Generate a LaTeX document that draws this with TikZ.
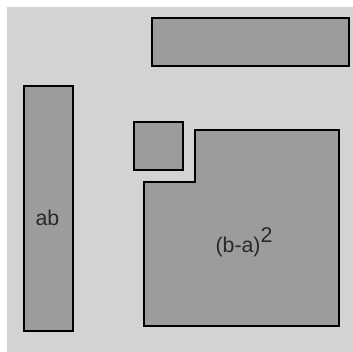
\documentclass[tikz,border=0pt]{standalone}
\usepackage{fontspec}
\setmainfont{Liberation Sans}
\definecolor{bggray}{RGB}{211,211,211}
\definecolor{piecegray}{RGB}{156,156,156}
\definecolor{textgray}{RGB}{40,40,40}

\begin{document}
\begin{tikzpicture}[x=0.75pt,y=-0.75pt,
    piece/.style={draw=black,fill=piecegray,line width=1.5pt},
    area/.style={text=textgray,inner sep=0pt,font=\fontsize{16}{19}\selectfont}]
            % background
            \useasboundingbox (0,0) rectangle (353,352);
            \fill [white] (0,0) rectangle (353,352);
            \fill [bggray] (7,7) rectangle (353,352);
            % pieces
            \draw [piece] (152,18) rectangle (349,66);
            \draw [piece] (23.5,86) rectangle (72.5,331);
            \draw [piece] (134,122.5) rectangle (182.5,170.5);
            \draw [piece] (195,130.5) -- (339,130.5) -- (339,326.5) -- (144,326.5)
                -- (144,182.5) -- (195,182.5) -- cycle;
            % labels
            \node [area] (ab) at (47.5,218) {ab};
            \node [area] (diff) at (244,242) {(b-a)\raisebox{0.85ex}{2}};
\end{tikzpicture}
\end{document}
